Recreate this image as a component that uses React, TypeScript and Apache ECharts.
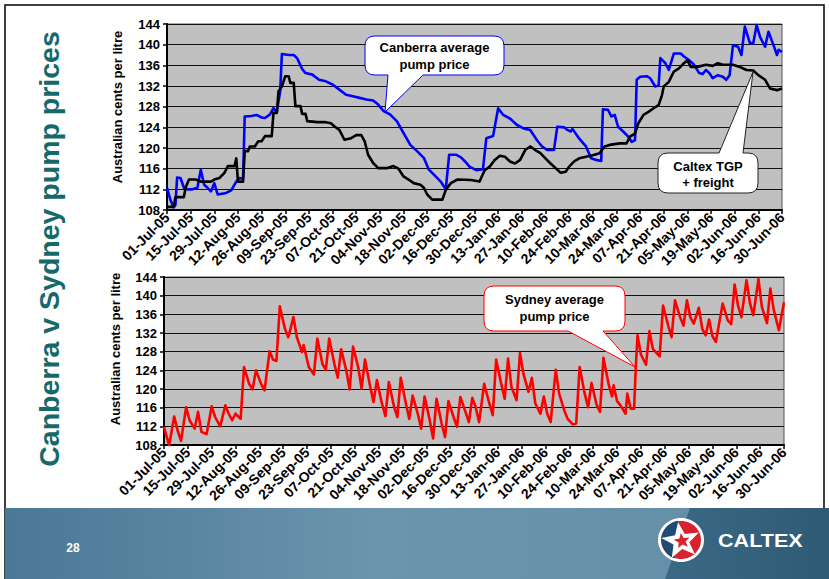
import React, { useEffect, useRef } from "react";
import * as echarts from "echarts";

// ---------------- data ----------------
const tickLabels = [
  "01-Jul-05", "15-Jul-05", "29-Jul-05", "12-Aug-05", "26-Aug-05", "09-Sep-05", "23-Sep-05",
  "07-Oct-05", "21-Oct-05", "04-Nov-05", "18-Nov-05", "02-Dec-05", "16-Dec-05", "30-Dec-05",
  "13-Jan-06", "27-Jan-06", "10-Feb-06", "24-Feb-06", "10-Mar-06", "24-Mar-06", "07-Apr-06",
  "21-Apr-06", "05-May-06", "19-May-06", "02-Jun-06", "16-Jun-06", "30-Jun-06",
];

// days counted from 01-Jul-05
const canberraDays = [
  0, 2, 4, 5, 6, 8, 10, 12, 15, 18, 20, 22, 24, 26, 28, 30, 35, 38, 41, 43, 45, 46, 50, 53, 56, 58, 61, 63, 65, 67,
  68, 72, 75, 77, 80, 82, 86, 90, 94, 98, 102, 106, 110, 114, 118, 122, 125, 128, 132, 136, 140, 144, 148, 152, 155,
  159, 162, 165, 167, 171, 174, 177, 179, 183, 187, 189, 193, 196, 199, 203, 207, 211, 215, 219, 222, 225, 229, 231,
  235, 237, 239, 240, 244, 248, 251, 254, 257, 258, 261, 263, 265, 267, 270, 273, 275, 277, 278, 280, 284, 286, 289,
  291, 292, 295, 297, 300, 304, 306, 309, 312, 315, 317, 319, 321, 323, 326, 329, 331, 333, 335, 338, 340, 342, 345,
  347, 349, 351, 354, 356, 359, 361, 362, 364,
];
const canberraPrices = [
  112.3, 110.0, 108.5, 109.0, 114.3, 114.2, 112.3, 112.0, 112.0, 112.3, 115.8, 112.9, 112.3, 111.6, 113.2, 111.0,
  111.3, 111.8, 113.5, 114.2, 114.0, 126.1, 126.2, 126.4, 125.9, 125.8, 126.5, 127.7, 127.0, 131.0, 138.2, 138.0,
  138.0, 137.4, 135.3, 134.5, 134.2, 133.2, 132.9, 132.3, 131.3, 130.3, 130.0, 129.7, 129.4, 129.2, 128.4, 127.2,
  126.5, 125.2, 122.9, 120.6, 119.4, 118.1, 115.8, 114.5, 113.5, 112.0, 118.7, 118.7, 118.2, 117.2, 116.4, 115.7,
  115.9, 121.9, 122.3, 127.7, 126.4, 125.7, 124.5, 123.8, 123.5, 121.5, 120.3, 119.6, 119.6, 124.1, 124.0, 123.5,
  123.2, 123.7, 121.8, 120.3, 118.0, 117.7, 117.5, 127.5, 127.4, 126.1, 126.4, 124.1, 123.2, 122.2, 121.2, 121.5,
  133.2, 133.8, 133.9, 133.5, 131.9, 132.2, 137.4, 136.4, 135.1, 138.3, 138.3, 137.7, 137.0, 136.1, 134.5, 134.3,
  135.1, 134.5, 133.5, 134.1, 133.8, 133.2, 134.1, 139.9, 139.6, 138.0, 143.5, 140.3, 140.3, 143.8, 141.5, 139.6,
  142.5, 139.9, 138.0, 139.0, 138.6,
];

const tgpDays = [
  0, 4, 5, 10, 11, 13, 17, 20, 26, 28, 31, 34, 36, 40, 41, 42, 45, 46, 48, 49, 52, 54, 56, 58, 62, 63, 65, 66, 68,
  70, 72, 73, 75, 76, 79, 80, 82, 83, 89, 94, 97, 99, 102, 105, 109, 112, 115, 117, 119, 122, 125, 130, 134, 137,
  140, 143, 146, 150, 152, 154, 157, 163, 165, 168, 172, 180, 185, 188, 191, 194, 197, 200, 203, 206, 209, 212, 215,
  218, 221, 224, 227, 230, 233, 236, 238, 241, 244, 248, 252, 256, 259, 262, 268, 272, 274, 277, 279, 282, 285, 288,
  291, 293, 294, 297, 300, 303, 305, 308, 310, 314, 319, 323, 326, 329, 335, 339, 343, 347, 350, 354, 357, 361, 364,
];
const tgpPrices = [
  108.6, 108.6, 110.5, 110.5, 112.3, 113.9, 113.9, 113.5, 113.5, 113.9, 114.2, 115.2, 116.5, 116.5, 118.0, 113.5,
  113.5, 119.4, 119.4, 120.3, 120.3, 121.3, 121.3, 122.3, 122.3, 126.8, 126.8, 131.0, 131.9, 133.9, 133.9, 132.6,
  132.6, 128.1, 128.1, 126.6, 126.6, 125.2, 125.0, 125.0, 124.8, 124.2, 123.5, 121.6, 121.9, 122.5, 122.5, 121.3,
  118.7, 117.1, 116.1, 116.1, 116.5, 116.0, 114.5, 113.9, 113.2, 112.9, 112.3, 111.0, 110.0, 110.0, 111.9, 113.2,
  113.9, 113.8, 113.5, 115.7, 116.4, 117.7, 118.5, 118.3, 117.4, 117.0, 117.7, 119.6, 120.3, 119.6, 119.0, 118.0,
  117.0, 116.1, 115.2, 115.4, 116.4, 117.4, 118.0, 118.3, 118.6, 119.0, 120.3, 120.6, 120.9, 120.9, 122.2, 122.8,
  124.8, 126.4, 127.0, 127.7, 128.3, 130.3, 131.9, 132.8, 134.8, 135.4, 136.1, 137.0, 135.7, 135.7, 136.1, 135.9,
  136.4, 136.1, 136.1, 135.7, 135.1, 135.0, 134.1, 133.2, 131.5, 131.2, 131.5,
];

const sydneyDays = [
  0, 3, 6, 8, 10, 13, 15, 18, 20, 22, 25, 28, 30, 33, 36, 38, 40, 42, 45, 47, 50, 52, 54, 57, 59, 62, 64, 66, 68,
  71, 73, 76, 78, 81, 82, 85, 88, 90, 93, 95, 97, 100, 102, 104, 107, 109, 111, 114, 116, 118, 121, 123, 125, 128,
  130, 132, 135, 137, 139, 142, 144, 146, 149, 151, 153, 156, 158, 160, 163, 165, 167, 170, 172, 174, 177, 179, 181,
  183, 185, 188, 191, 193, 195, 198, 200, 202, 204, 207, 209, 211, 214, 216, 218, 221, 223, 225, 227, 230, 232, 235,
  237, 240, 242, 244, 247, 249, 251, 254, 256, 258, 261, 263, 264, 266, 268, 271, 272, 274, 276, 277, 278, 280, 283,
  285, 287, 291, 293, 296, 298, 300, 303, 305, 307, 309, 311, 314, 316, 318, 320, 322, 324, 328, 331, 333, 335, 337,
  339, 342, 344, 346, 349, 351, 354, 356, 358, 361, 364,
];
const sydneyPrices = [
  111.9, 107.9, 114.1, 111.1, 108.9, 116.1, 113.3, 111.5, 115.1, 110.8, 110.3, 116.3, 114.0, 112.0, 116.5, 114.7,
  113.3, 114.7, 113.6, 124.7, 121.1, 119.9, 124.0, 121.1, 119.7, 128.1, 126.3, 126.0, 137.7, 132.9, 131.1, 135.4,
  131.1, 127.9, 129.4, 124.7, 123.1, 130.8, 125.4, 124.1, 130.8, 125.4, 122.4, 128.5, 124.0, 119.9, 129.1, 124.7,
  120.1, 126.3, 120.6, 117.2, 121.9, 116.8, 114.2, 121.5, 116.3, 114.0, 122.4, 116.9, 113.6, 118.6, 114.7, 111.5,
  118.4, 113.3, 109.4, 117.9, 112.6, 109.7, 117.4, 114.0, 111.9, 118.3, 115.1, 112.9, 118.1, 116.1, 112.9, 121.1,
  116.9, 114.4, 126.3, 121.1, 117.9, 126.5, 120.4, 117.6, 127.7, 123.3, 119.4, 122.4, 116.9, 114.7, 118.4, 114.7,
  112.9, 124.1, 119.0, 115.4, 113.6, 112.4, 112.6, 124.7, 119.0, 116.1, 121.3, 116.6, 115.1, 126.7, 121.1, 118.4,
  120.8, 117.4, 116.5, 114.7, 119.0, 115.8, 115.8, 124.7, 131.5, 127.4, 125.2, 132.4, 128.6, 127.0, 137.9, 133.6,
  131.1, 139.0, 135.4, 133.6, 139.0, 135.4, 134.0, 137.4, 132.9, 131.5, 134.9, 131.3, 130.1, 138.3, 134.7, 133.9,
  142.4, 137.9, 135.4, 143.3, 138.4, 135.8, 143.6, 137.6, 134.1, 141.5, 136.9, 132.6, 138.6,
];

const yMin = 108;
const yMax = 144;
const yStep = 4;
const dayMax = 364;
const dayStep = 14;

// ---------------- helpers ----------------
const FONT = "'Liberation Sans', Arial, Helvetica, sans-serif";
const zip = (xs: number[], ys: number[]) => xs.map((x, i) => [x, ys[i]]);

function calloutPath(w: number, h: number, r: number, b1: number, b2: number, tx: number, ty: number, top: boolean): string {
  if (!top) {
    return `M${r} 0 L${w - r} 0 Q${w} 0 ${w} ${r} L${w} ${h - r} Q${w} ${h} ${w - r} ${h} L${b2} ${h} L${tx} ${ty} L${b1} ${h} L${r} ${h} Q0 ${h} 0 ${h - r} L0 ${r} Q0 0 ${r} 0 Z`;
  }
  return `M${r} 0 L${b1} 0 L${tx} ${ty} L${b2} 0 L${w - r} 0 Q${w} 0 ${w} ${r} L${w} ${h - r} Q${w} ${h} ${w - r} ${h} L${r} ${h} Q0 ${h} 0 ${h - r} L0 ${r} Q0 0 ${r} 0 Z`;
}

function starPoints(cx: number, cy: number, R: number, r: number, rot: number, sx = 1) {
  const pts: number[][] = [];
  for (let i = 0; i < 10; i++) {
    const a = rot + (i * Math.PI) / 5;
    const rad = i % 2 === 0 ? R : r;
    pts.push([cx + rad * Math.cos(a) * sx, cy + rad * Math.sin(a)]);
  }
  return pts;
}

let shapesRegistered = false;
function registerShapes() {
  if (shapesRegistered) return;
  shapesRegistered = true;
  echarts.graphic.registerShape("calloutCanberra", echarts.graphic.extendPath(calloutPath(139, 39, 10, 23, 58, 20, 76, false), {}));
  echarts.graphic.registerShape("calloutTgp", echarts.graphic.extendPath(calloutPath(100, 40, 10, 61, 85, 95, -81, true), {}));
  echarts.graphic.registerShape("calloutSydney", echarts.graphic.extendPath(calloutPath(141, 45, 10, 84, 119, 151, 81, false), {}));
}

const boldText = (size: number, color = "#000") => ({
  fontSize: size,
  fontWeight: "bold" as const,
  fontFamily: FONT,
  fill: color,
});

export default function App() {
  const ref = useRef<HTMLDivElement>(null);

  useEffect(() => {
    if (!ref.current) return;
    registerShapes();
    const chart = echarts.init(ref.current, undefined, { renderer: "svg" });

    const grids = [
      { left: 167, top: 24, width: 615, height: 186 },
      { left: 164, top: 277, width: 620, height: 168 },
    ];

    const xAxis = grids.map((_, i) => ({
      type: "value" as const,
      gridIndex: i,
      min: 0,
      max: dayMax,
      interval: dayStep,
      axisLine: { show: true, onZero: false, lineStyle: { color: "#000", width: 2 } },
      axisTick: { show: true, length: 4, lineStyle: { color: "#000", width: 1.5 } },
      axisLabel: {
        rotate: 45,
        margin: 5,
        fontSize: 14,
        fontWeight: "bold" as const,
        fontFamily: FONT,
        color: "#000",
        showMinLabel: true,
        showMaxLabel: true,
        formatter: (v: number) => tickLabels[Math.round(v / dayStep)] ?? "",
      },
      splitLine: { show: false },
    }));

    const yAxis = grids.map((_, i) => ({
      type: "value" as const,
      gridIndex: i,
      min: yMin,
      max: yMax,
      interval: yStep,
      axisLine: { show: true, onZero: false, lineStyle: { color: "#000", width: 2 } },
      axisTick: { show: true, length: 4, lineStyle: { color: "#000", width: 1.5 } },
      axisLabel: {
        margin: 7,
        fontSize: 13,
        fontWeight: "bold" as const,
        fontFamily: FONT,
        color: "#000",
        showMinLabel: true,
        showMaxLabel: true,
      },
      splitLine: { show: true, lineStyle: { color: "#111", width: 1 } },
    }));

    const line = (data: number[][], color: string, idx: number, z: number) => ({
      type: "line" as const,
      xAxisIndex: idx,
      yAxisIndex: idx,
      data,
      symbol: "none",
      showSymbol: false,
      z,
      lineStyle: { color, width: 2.6, join: "round" },
      emphasis: { disabled: true },
    });

    const logoCx = 681;
    const logoCy = 540;

    chart.setOption({
      animation: false,
      backgroundColor: "#ffffff",
      tooltip: { show: false },
      grid: grids.map((g) => ({
        ...g,
        show: true,
        backgroundColor: "#c0c0c0",
        borderColor: "#555",
        borderWidth: 1,
      })),
      xAxis,
      yAxis,
      series: [
        line(zip(canberraDays, canberraPrices), "#0000ff", 0, 3),
        line(zip(tgpDays, tgpPrices), "#000000", 0, 4),
        line(zip(sydneyDays, sydneyPrices), "#ff0000", 1, 3),
      ],
      graphic: {
        elements: [
          // slide frame
          { type: "rect", z: 0, shape: { x: 5, y: 5, width: 819, height: 590 }, style: { fill: "transparent", stroke: "#000", lineWidth: 1.5 } },
          // footer band
          {
            type: "rect",
            z: 1,
            shape: { x: 5, y: 508, width: 824, height: 71 },
            style: {
              fill: new echarts.graphic.LinearGradient(0, 0, 1, 0, [
                { offset: 0, color: "#4a7896" },
                { offset: 0.45, color: "#6c94ae" },
                { offset: 0.8, color: "#6690aa" },
                { offset: 1, color: "#5a86a1" },
              ]),
            },
          },
          {
            type: "polygon",
            z: 2,
            shape: { points: [[690, 508], [829, 508], [829, 579], [665, 579]] },
            style: {
              fill: new echarts.graphic.LinearGradient(0, 0, 1, 0, [
                { offset: 0, color: "#3b6985" },
                { offset: 1, color: "#2f5a75" },
              ]),
            },
          },
          { type: "text", z: 3, x: 73, y: 548, style: { ...boldText(12, "#fff"), text: "28", align: "center", verticalAlign: "middle" } },
          // Caltex logo
          { type: "ellipse", z: 3, shape: { cx: logoCx, cy: logoCy, rx: 23, ry: 22 }, style: { fill: "#ffffff" } },
          { type: "ellipse", z: 3, shape: { cx: logoCx, cy: logoCy, rx: 20, ry: 19 }, style: { fill: "#d8232f" } },
          { type: "sector", z: 3, shape: { cx: logoCx, cy: logoCy, r: 19.5, startAngle: Math.PI * 0.62, endAngle: Math.PI * 1.45 }, style: { fill: "#1d4c78" } },
          { type: "polygon", z: 4, shape: { points: starPoints(logoCx, logoCy + 1, 19, 8, -Math.PI / 2 - 0.15, 1.05) }, style: { fill: "#ffffff" } },
          { type: "polygon", z: 5, shape: { points: starPoints(logoCx + 1, logoCy + 1, 8, 3.5, -Math.PI / 2 - 0.15, 1.05) }, style: { fill: "#d8232f" } },
          { type: "text", z: 3, x: 718, y: 541, scaleX: 1.2, style: { ...boldText(18, "#fff"), text: "CALTEX", align: "left", verticalAlign: "middle" } },
          // slide title
          {
            type: "text",
            z: 3,
            x: 48.5,
            y: 249,
            rotation: Math.PI / 2,
            style: { ...boldText(28.5, "#15696a"), text: "Canberra v Sydney pump prices", align: "center", verticalAlign: "middle" },
          },
          // axis names
          { type: "text", z: 3, x: 117, y: 107, rotation: Math.PI / 2, style: { ...boldText(13), text: "Australian cents per litre", align: "center", verticalAlign: "middle" } },
          { type: "text", z: 3, x: 115, y: 349, rotation: Math.PI / 2, style: { ...boldText(13), text: "Australian cents per litre", align: "center", verticalAlign: "middle" } },
          // callouts
          { type: "calloutCanberra", z: 20, x: 365, y: 36, style: { fill: "#ffffff", stroke: "#0000ff", lineWidth: 1 } },
          { type: "text", z: 21, x: 434.5, y: 56, style: { ...boldText(13), text: "Canberra average\npump price", align: "center", verticalAlign: "middle", lineHeight: 17 } },
          { type: "calloutTgp", z: 20, x: 658, y: 153, style: { fill: "#ffffff", stroke: "#222", lineWidth: 1 } },
          { type: "text", z: 21, x: 708, y: 174, style: { ...boldText(13), text: "Caltex TGP\n+ freight", align: "center", verticalAlign: "middle", lineHeight: 16 } },
          { type: "calloutSydney", z: 20, x: 484, y: 286, style: { fill: "#ffffff", stroke: "#ff0000", lineWidth: 1 } },
          { type: "text", z: 21, x: 554.5, y: 307.5, style: { ...boldText(13), text: "Sydney average\npump price", align: "center", verticalAlign: "middle", lineHeight: 17 } },
        ],
      },
    });

    return () => {
      chart.dispose();
    };
  }, []);

  return (
    <div
      ref={ref}
      style={{ position: "absolute", left: 0, top: 0, width: 829, height: 579 }}
    />
  );
}
